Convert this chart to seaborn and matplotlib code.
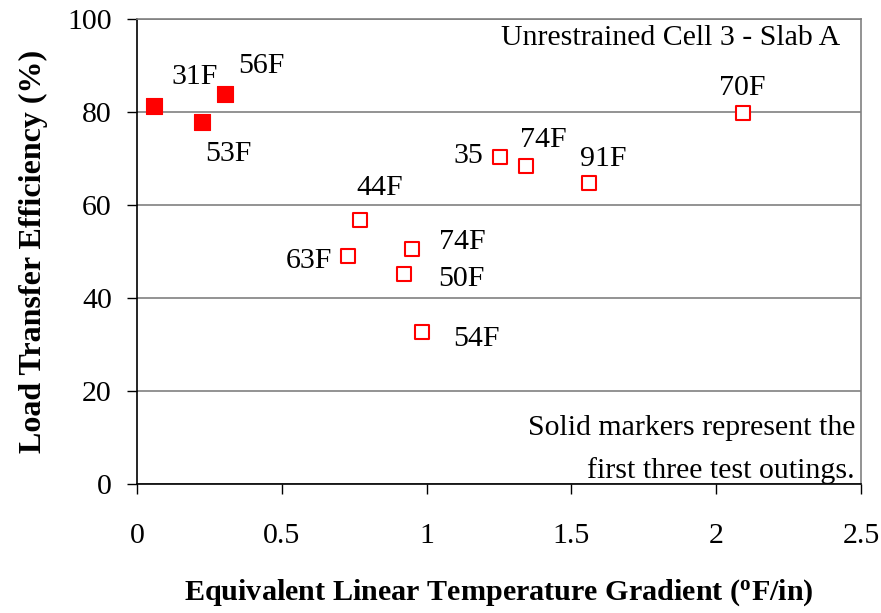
import matplotlib
matplotlib.use("Agg")
import matplotlib.pyplot as plt
import seaborn as sns
import pandas as pd

# First three test outings (solid markers)
solid_x = [0.059, 0.223, 0.305]
solid_y = [81.3, 77.9, 83.9]
solid_labels = ["31F", "53F", "56F"]
solid_offsets = [(29, 21), (19, -23), (26, 20)]

# Later test outings (hollow markers)
open_x = [2.094, 1.253, 1.342, 1.561, 0.770, 0.729, 0.950, 0.922, 0.984]
open_y = [79.7, 70.3, 68.5, 64.8, 56.8, 49.1, 50.5, 45.3, 32.8]
open_labels = ["70F", "35", "74F", "91F", "44F", "63F", "74F", "50F", "54F"]
open_offsets = [(-1, 18), (-23, 0.5), (12.5, 18.5), (10, 17), (14.5, 23),
                (-28.5, -4), (36, 5.5), (41.5, -4.3), (39.5, -5.5)]

x_ticks = [0, 0.5, 1, 1.5, 2, 2.5]
x_tick_labels = ["0", "0.5", "1", "1.5", "2", "2.5"]
y_ticks = [0, 20, 40, 60, 80, 100]

sns.set_theme(style="white")
plt.rcParams["font.family"] = ["Liberation Serif", "DejaVu Serif"]
plt.rcParams["mathtext.fontset"] = "custom"
plt.rcParams["mathtext.rm"] = "Liberation Serif"
plt.rcParams["mathtext.bf"] = "Liberation Serif:bold"
plt.rcParams["text.color"] = "black"
plt.rcParams["axes.labelcolor"] = "black"

fig = plt.figure(figsize=(8.81, 6.13), dpi=100)
ax = fig.add_axes([0.1555, 0.2100, 0.8218, 0.7590])

solid_df = pd.DataFrame({"x": solid_x, "y": solid_y})
open_df = pd.DataFrame({"x": open_x, "y": open_y})

sns.scatterplot(data=solid_df, x="x", y="y", ax=ax, marker="s", s=140,
                color="#ff0000", edgecolor="#ff0000", linewidth=0.8, zorder=4)
sns.scatterplot(data=open_df, x="x", y="y", ax=ax, marker="s", s=115,
                facecolor="white", edgecolor="#ff0000", linewidth=1.5, zorder=4)

label_size = 21.5
for xs, ys, labs, offs in [(solid_x, solid_y, solid_labels, solid_offsets),
                           (open_x, open_y, open_labels, open_offsets)]:
    for xv, yv, lab, off in zip(xs, ys, labs, offs):
        ax.annotate(lab, (xv, yv), xytext=off, textcoords="offset points",
                    ha="center", va="center", fontsize=label_size, color="black")

ax.set_xlim(0, 2.5)
ax.set_ylim(0, 100)
ax.set_xticks(x_ticks)
ax.set_xticklabels(x_tick_labels)
ax.set_yticks(y_ticks)

ax.yaxis.grid(True, color="#808080", linewidth=1.2)
ax.xaxis.grid(False)
ax.set_axisbelow(True)

for side in ["top", "right"]:
    ax.spines[side].set_color("#808080")
    ax.spines[side].set_linewidth(1.2)
for side in ["left", "bottom"]:
    ax.spines[side].set_color("black")
    ax.spines[side].set_linewidth(1.2)

ax.tick_params(axis="both", which="major", direction="out", length=7, width=1,
               color="black", labelsize=21.5, labelcolor="black")
ax.tick_params(axis="x", pad=21, bottom=True)
ax.tick_params(axis="y", pad=11, left=True)

ax.set_xlabel(r"Equivalent Linear Temperature Gradient ($\mathbf{^{o}}$F/in)",
              fontsize=21.7, fontweight="bold", labelpad=20)
ax.set_ylabel("Load Transfer Efficiency (%)", fontsize=23, fontweight="bold",
              labelpad=14)

ax.text(0.972, 0.944, "Unrestrained Cell 3 - Slab A", transform=ax.transAxes,
        ha="right", va="baseline", fontsize=21.5)
ax.text(0.9917, 0.106, "Solid markers represent the", transform=ax.transAxes,
        ha="right", va="baseline", fontsize=21.5)
ax.text(0.9917, 0.0135, "first three test outings.", transform=ax.transAxes,
        ha="right", va="baseline", fontsize=21.5)

fig.savefig("out.png", dpi=100)
